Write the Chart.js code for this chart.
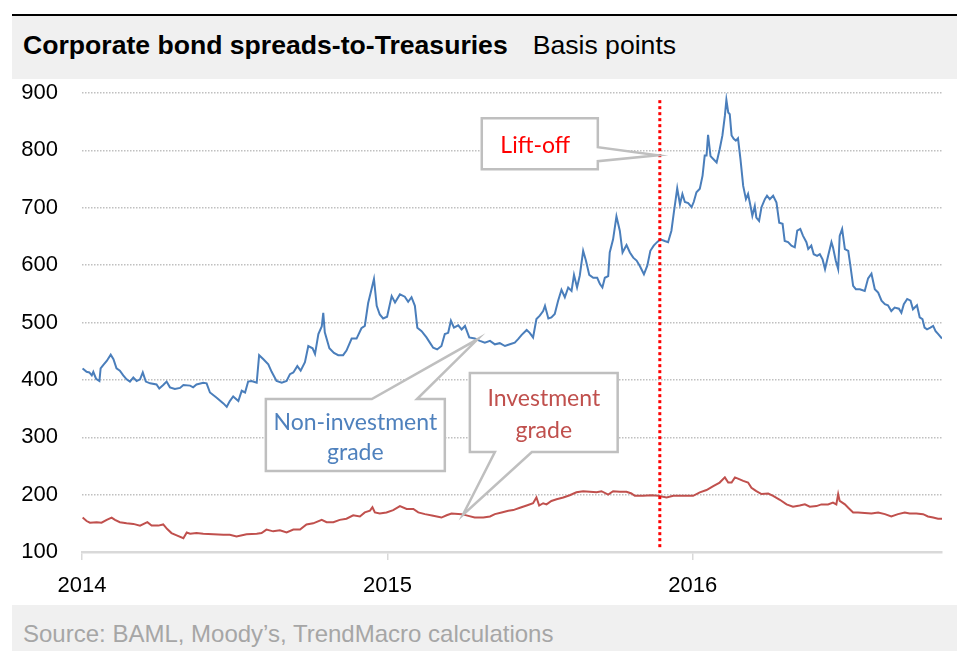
<!DOCTYPE html>
<html>
<head>
<meta charset="utf-8">
<script src="https://cdn.jsdelivr.net/npm/chart.js@4/dist/chart.umd.min.js"></script>
<style>
html,body{margin:0;padding:0;background:#fff;}
#wrap{position:relative;width:957px;height:651px;overflow:hidden;font-family:"Liberation Sans",Arial,sans-serif;}
#topline{position:absolute;left:12px;top:14px;width:945px;height:2px;background:#000;}
#band{position:absolute;left:12px;top:16px;width:945px;height:63px;background:#f0f0f0;}
#title{position:absolute;left:23px;top:32px;font-size:26.6px;line-height:26.6px;white-space:nowrap;color:#000;}
#title b{font-weight:bold;}
#title span{margin-left:25px;}
#foot{position:absolute;left:12px;top:605px;width:945px;height:46px;background:#f0f0f0;}
#source{position:absolute;left:23px;top:622px;font-size:24px;line-height:24px;color:#a6a6a6;white-space:nowrap;}
#c{position:absolute;left:0;top:0;}
</style>
</head>
<body>
<div id="wrap">
  <div id="topline"></div>
  <div id="band"></div>
  <div id="title"><b>Corporate bond spreads-to-Treasuries</b><span>Basis points</span></div>
  <div id="foot"></div>
  <div id="source">Source: BAML, Moody’s, TrendMacro calculations</div>
  <canvas id="c" width="957" height="651"></canvas>
</div>
<script>
// ---- Data (dates as decimal years, values in basis points) ----
const hyYears = [2014.002,2014.015,2014.024,2014.032,2014.037,2014.046,2014.057,2014.061,2014.070,2014.081,2014.094,2014.103,2014.113,2014.124,2014.135,2014.146,2014.157,2014.168,2014.179,2014.190,2014.199,2014.209,2014.223,2014.244,2014.253,2014.266,2014.277,2014.288,2014.304,2014.321,2014.332,2014.354,2014.364,2014.375,2014.397,2014.408,2014.419,2014.441,2014.463,2014.474,2014.484,2014.495,2014.512,2014.523,2014.534,2014.544,2014.555,2014.572,2014.580,2014.594,2014.610,2014.621,2014.637,2014.654,2014.670,2014.681,2014.692,2014.705,2014.716,2014.730,2014.741,2014.755,2014.763,2014.774,2014.785,2014.790,2014.795,2014.810,2014.825,2014.839,2014.855,2014.866,2014.883,2014.899,2014.915,2014.926,2014.937,2014.948,2014.956,2014.965,2014.975,
2014.986,2014.999,2015.014,2015.025,2015.041,2015.057,2015.068,2015.079,2015.090,2015.098,2015.112,2015.128,2015.139,2015.150,2015.163,2015.177,2015.188,2015.199,2015.208,2015.218,2015.232,2015.243,2015.254,2015.268,2015.286,2015.303,2015.319,2015.336,2015.352,2015.368,2015.385,2015.401,2015.417,2015.428,2015.439,2015.456,2015.466,2015.477,2015.488,2015.499,2015.510,2015.516,2015.527,2015.537,2015.548,2015.559,2015.570,2015.581,2015.592,2015.603,2015.611,2015.621,2015.630,2015.641,2015.650,2015.661,2015.674,2015.687,2015.696,2015.704,2015.712,2015.723,2015.728,2015.739,2015.750,2015.761,2015.770,2015.783,2015.794,2015.805,2015.816,2015.827,2015.840,2015.851,2015.861,2015.872,2015.883,2015.894,2015.908,2015.919,2015.930,2015.938,2015.949,
2015.958,2015.966,2015.974,2015.985,2015.996,2016.003,2016.012,2016.023,2016.032,2016.039,2016.045,2016.050,2016.058,2016.067,2016.078,2016.088,2016.097,2016.105,2016.110,2016.116,2016.121,2016.127,2016.134,2016.141,2016.148,2016.156,2016.165,2016.174,2016.181,2016.189,2016.195,2016.203,2016.208,2016.217,2016.225,2016.236,2016.243,2016.252,2016.263,2016.274,2016.283,2016.294,2016.301,2016.312,2016.323,2016.334,2016.342,2016.352,2016.361,2016.372,2016.378,2016.388,2016.396,2016.407,2016.416,2016.425,2016.433,2016.443,2016.454,2016.459,2016.468,2016.476,2016.481,2016.489,2016.498,2016.509,2016.516,2016.525,2016.534,2016.547,2016.563,2016.574,2016.585,2016.596,2016.607,2016.618,2016.629,2016.639,2016.650,2016.661,2016.675,2016.683,2016.691,2016.702,2016.713,2016.721,2016.734,2016.743,2016.752,2016.759,2016.767,2016.778,2016.787,2016.795,2016.803,2016.816];
const hyValues = [420,414,413,408,414,402,398,420,426,433,444,436,420,416,408,401,397,404,398,401,413,397,394,392,385,391,397,387,384,386,391,390,387,392,395,394,378,369,359,353,363,371,363,381,378,397,398,395,443,436,427,414,398,395,398,410,413,424,416,431,459,455,445,480,493,517,483,455,447,443,443,451,472,472,490,494,534,558,576,529,514,
507,510,546,535,549,545,536,544,529,491,485,474,465,456,453,459,480,482,503,491,495,488,494,474,472,468,465,468,462,464,459,462,465,471,478,487,482,474,506,512,520,529,507,509,515,538,557,544,561,555,583,561,582,625,608,583,578,578,567,561,578,581,622,645,685,660,622,635,622,613,608,598,584,599,625,634,640,645,642,640,660,692,734,
706,724,710,708,701,710,727,733,756,791,791,827,790,785,779,802,826,860,888,866,863,826,820,817,821,785,738,715,724,703,686,703,683,677,701,715,721,715,721,709,674,672,642,640,634,631,660,663,651,640,628,634,619,616,619,610,593,616,640,631,608,593,651,663,628,625,599,564,558,558,555,577,585,558,552,538,532,530,520,526,524,517,532,541,538,523,530,509,506,491,488,491,494,485,480,472];

const igYears = [2014.002,2014.015,2014.026,2014.048,2014.064,2014.081,2014.097,2014.108,2014.124,2014.146,2014.168,2014.190,2014.214,2014.228,2014.250,2014.266,2014.279,2014.293,2014.310,2014.332,2014.343,2014.354,2014.375,2014.397,2014.430,2014.463,2014.484,2014.506,2014.539,2014.572,2014.588,2014.604,2014.626,2014.648,2014.670,2014.692,2014.714,2014.735,2014.757,2014.785,2014.801,2014.823,2014.844,2014.866,2014.888,2014.910,2014.926,2014.943,2014.951,2014.959,2014.975,
2014.997,2015.019,2015.041,2015.063,2015.085,2015.101,2015.123,2015.150,2015.177,2015.194,2015.210,2015.243,2015.265,2015.286,2015.314,2015.336,2015.352,2015.374,2015.396,2015.412,2015.434,2015.456,2015.477,2015.488,2015.497,2015.510,2015.521,2015.537,2015.554,2015.576,2015.597,2015.619,2015.641,2015.663,2015.685,2015.701,2015.723,2015.739,2015.761,2015.783,2015.799,2015.810,2015.837,2015.865,2015.887,2015.914,2015.936,2015.968,
2015.979,2016.001,2016.023,2016.045,2016.067,2016.088,2016.105,2016.116,2016.127,2016.138,2016.148,2016.165,2016.181,2016.192,2016.208,2016.225,2016.247,2016.263,2016.285,2016.307,2016.328,2016.350,2016.367,2016.383,2016.405,2016.421,2016.443,2016.459,2016.470,2016.476,2016.481,2016.498,2016.509,2016.525,2016.541,2016.563,2016.585,2016.607,2016.629,2016.650,2016.672,2016.694,2016.710,2016.732,2016.754,2016.770,2016.787,2016.803,2016.816];
const igValues = [160,154,151,152,151,156,160,156,152,150,149,146,152,146,146,148,140,133,129,124,134,132,133,132,131,130,130,127,131,132,133,139,136,138,134,139,139,148,150,156,152,152,156,158,164,162,169,172,178,169,167,
169,173,180,175,175,169,166,163,160,164,167,166,163,160,160,162,166,169,172,173,177,181,185,195,181,185,183,189,192,195,199,204,206,205,204,206,200,206,205,205,202,198,198,199,198,195,198,198,
198,198,204,208,215,221,230,221,221,230,228,224,221,212,206,201,202,198,191,183,179,181,183,179,180,183,183,186,183,201,189,183,177,169,169,168,167,169,166,162,166,169,167,167,166,162,160,158,158];

const liftOffYear = 2015.892;           // Fed lift-off marker
const xTickYears = [2014, 2015, 2016];
const yTickValues = [100, 200, 300, 400, 500, 600, 700, 800, 900];
const xRange = [2014, 2016.816];
const yRange = [100, 900];

// Call-out boxes, anchored in data space (years, basis points)
const callouts = [
  {color:'#ff0000', textX:2015.484, lines:[{text:'Lift-off', y:795}],
   shape:[[2015.309,856.1],[2015.689,856.1],[2015.689,805.6],[2015.885,791.6],[2015.689,781.2],[2015.689,767.2],[2015.309,767.2]]},
  {color:'#4f81bd', textX:2014.895, lines:[{text:'Non-investment', y:312.5},{text:'grade', y:260.3}],
   shape:[[2014.602,366.6],[2014.949,366.6],[2015.296,471.1],[2015.097,366.6],[2015.188,366.6],[2015.188,241.1],[2014.602,241.1]]},
  {color:'#c0504d', textX:2015.512, lines:[{text:'Investment', y:354.9},{text:'grade', y:299.1}],
   shape:[[2015.270,411.8],[2015.754,411.8],[2015.754,274.2],[2015.473,274.2],[2015.247,164.5],[2015.352,274.2],[2015.270,274.2]]}
];

const toPoints = (xs, ys) => xs.map((x, i) => ({x: x, y: ys[i]}));

const calloutPlugin = {
  id: 'callouts',
  afterDatasetsDraw(chart) {
    const ctx = chart.ctx, xs = chart.scales.x, ys = chart.scales.y;
    callouts.forEach(c => {
      ctx.save();
      ctx.beginPath();
      c.shape.forEach((p, i) => {
        const px = xs.getPixelForValue(p[0]), py = ys.getPixelForValue(p[1]);
        if (i) ctx.lineTo(px, py); else ctx.moveTo(px, py);
      });
      ctx.closePath();
      ctx.fillStyle = '#ffffff';
      ctx.fill();
      ctx.lineWidth = 2.5;
      ctx.lineJoin = 'miter';
      ctx.strokeStyle = '#bfbfbf';
      ctx.stroke();
      ctx.fillStyle = c.color;
      ctx.font = '23px Lato, "Open Sans", sans-serif';
      ctx.textAlign = 'center';
      ctx.textBaseline = 'alphabetic';
      c.lines.forEach(l => ctx.fillText(l.text, xs.getPixelForValue(c.textX), ys.getPixelForValue(l.y)));
      ctx.restore();
    });
  }
};

new Chart(document.getElementById('c'), {
  type: 'line',
  data: {
    datasets: [
      {label:'Lift-off', data: toPoints([liftOffYear, liftOffYear], [887.5, 105]),
       borderColor:'#ff0000', borderWidth:3, borderDash:[3,3], pointRadius:0, fill:false},
      {label:'Non-investment grade', data: toPoints(hyYears, hyValues),
       borderColor:'#4a7ebb', borderWidth:2, pointRadius:0, tension:0, fill:false},
      {label:'Investment grade', data: toPoints(igYears, igValues),
       borderColor:'#c0504d', borderWidth:2, pointRadius:0, tension:0, fill:false}
    ]
  },
  options: {
    responsive:false,
    animation:false,
    devicePixelRatio:1,
    layout:{padding:{top:93, right:15, bottom:0, left:0}},
    plugins:{legend:{display:false}, tooltip:{enabled:false}, title:{display:false}},
    scales:{
      x:{
        type:'linear', min:xRange[0], max:xRange[1],
        afterBuildTicks: s => { s.ticks = xTickYears.map(v => ({value:v})); },
        afterFit: s => { s.height = 99; },
        ticks:{autoSkip:false, maxRotation:0, padding:13, color:'#000',
               font:{family:'"Liberation Sans", Arial, sans-serif', size:22},
               callback: v => String(v)},
        grid:{display:true, drawOnChartArea:false, drawTicks:true, tickLength:8, color:'#d9d9d9', lineWidth:1.5},
        border:{display:true, color:'#d9d9d9', width:2.5}
      },
      y:{
        type:'linear', min:yRange[0], max:yRange[1],
        afterBuildTicks: s => { s.ticks = yTickValues.map(v => ({value:v})); },
        afterFit: s => { s.width = 82; },
        ticks:{padding:24, color:'#000',
               font:{family:'"Liberation Sans", Arial, sans-serif', size:22},
               callback: v => String(v)},
        grid:{color:'#c0c0c0', lineWidth:1.5, drawTicks:false},
        border:{display:false, dash:[1.5,1.5]}
      }
    }
  },
  plugins:[calloutPlugin]
});
</script>
</body>
</html>
